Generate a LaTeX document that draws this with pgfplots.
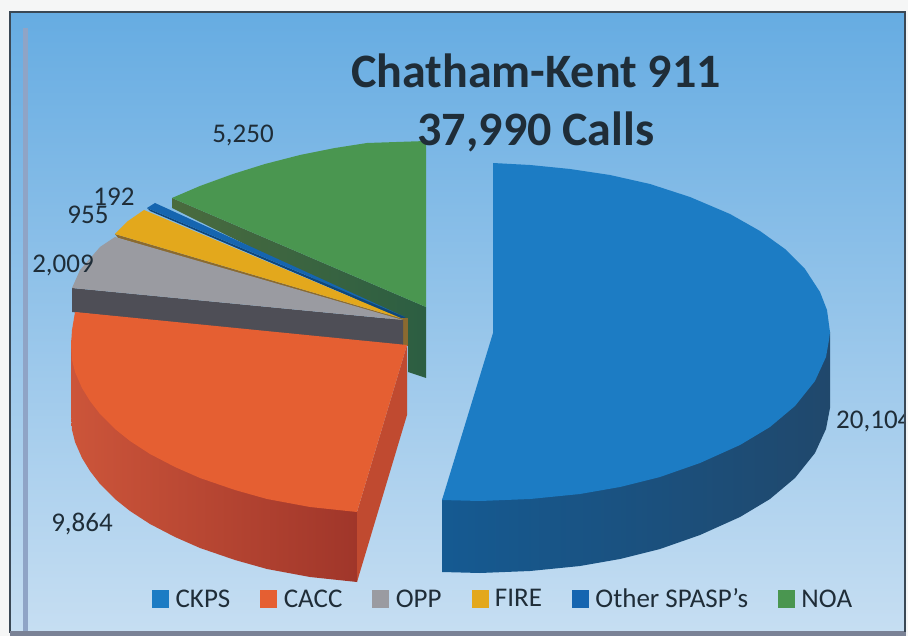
\documentclass[border=0pt]{standalone}
\usepackage{fontspec}
\setmainfont{Carlito}
\usepackage{pgfplots}
\pgfplotsset{compat=1.18}

\definecolor{ckps}{HTML}{1C7CC4}
\definecolor{cacc}{HTML}{E55F32}
\definecolor{opp}{HTML}{9A9BA1}
\definecolor{fire}{HTML}{E3A81C}
\definecolor{spasp}{HTML}{1565B0}
\definecolor{noa}{HTML}{4A9650}
\definecolor{inktext}{HTML}{1F2D38}
\definecolor{panelTop}{HTML}{66ACE2}
\definecolor{panelMid}{HTML}{9CC8EC}
\definecolor{panelBot}{HTML}{C6DEF2}
\definecolor{frameDark}{HTML}{3A4855}
\definecolor{frameBand}{HTML}{8FA4C6}
\definecolor{frameBot}{HTML}{7A8296}
\definecolor{page}{HTML}{F5F6F6}
\definecolor{oppSide}{HTML}{4E4E56}
\definecolor{fireSide}{HTML}{8A6A30}

% everything is laid out in the pixel coordinates of the scan
\begin{document}
\begin{tikzpicture}
\begin{axis}[
  width=908pt, height=636pt, scale only axis,
  xmin=0, xmax=908, ymin=0, ymax=636,
  y dir=reverse, hide axis,
  legend style={at={(axis cs:152,599)}, anchor=west, draw=none, fill=none,
    inner sep=0pt, font=\fontsize{27}{29}\selectfont\color{inktext},
    legend columns=6,
    /tikz/every odd column/.append style={column sep=5pt},
    /tikz/every even column/.append style={column sep=28pt}},
  legend cell align=left,
  legend image code/.code={\fill[#1] (0pt,-8.5pt) rectangle (16pt,8.5pt);},
]
\addlegendimage{ckps}
\addlegendimage{cacc}
\addlegendimage{opp}
\addlegendimage{fire}
\addlegendimage{spasp}
\addlegendimage{noa}

% page and panel
\addplot[draw=none, fill=page] coordinates {(0,0) (908,0) (908,636) (0,636)} --cycle;
\addplot[draw=frameDark, line width=1.5pt, top color=panelTop, middle color=panelMid, bottom color=panelBot]
  coordinates {(10,12) (905,12) (905,632) (10,632)} --cycle;
\addplot[draw=none, fill=frameBand] coordinates {(23,28) (28,28) (28,631) (23,631)} --cycle;
\addplot[draw=none, fill=frameBot] coordinates {(10,631) (908,631) (908,636) (10,636)} --cycle;

% NOA
\addplot[draw=none, left color={rgb,255:red,74;green,107;blue,62}, right color={rgb,255:red,44;green,94;blue,66}]
  coordinates {(172,198) (172,208) (408,325) (408,372) (426,378) (426,307)} --cycle;
\addplot[draw=none, fill=noa] coordinates {(426,141) (367,143) (335,148) (300,155) (265,164) (233,174) (200,186) (172,198) (426,307)} --cycle;

% Other SPASP's
\addplot[draw=none, fill=spasp!70!black] coordinates {(147,208) (405,317) (405,320) (150,211)} --cycle;
\addplot[draw=none, fill=spasp] coordinates {(405,317) (147,208) (155,203)} --cycle;

% FIRE
\addplot[draw=none, fill=fireSide] coordinates {(115,234) (403,319) (403,323) (118,238)} --cycle;
\addplot[draw=none, fill=fireSide] coordinates {(402,318) (408,318) (408,346) (402,346)} --cycle;
\addplot[draw=none, fill=fire] coordinates {(403,319) (115,234) (128,221) (144,210)} --cycle;

% OPP
\addplot[draw=none, fill=oppSide] coordinates {(72,288) (403,320) (403,346) (72,312)} --cycle;
\addplot[draw=none, fill=opp] coordinates {(403,320) (115,237) (100,247) (80,270) (72,288)} --cycle;

% CACC
\addplot[draw=none, left color={rgb,255:red,204;green,85;blue,58}, right color={rgb,255:red,160;green,54;blue,42}]
  coordinates {(71,340) (71,415) (72,430) (75,442) (82,458) (90,471) (100,484) (115,499) (130,511) (150,524)
    (175,537) (200,548) (235,560) (267,569) (310,577) (357,582) (357,512)} --cycle;
\addplot[draw=none, fill={rgb,255:red,192;green,74;blue,48}] coordinates {(357,512) (407,345) (407,415) (357,582)} --cycle;
\addplot[draw=none, fill=cacc] coordinates {(407,345) (75,312) (72,330) (71,345) (72,360) (75,372) (82,388) (90,401)
    (100,414) (115,429) (130,441) (150,454) (175,467) (200,478) (235,490) (267,499) (310,507) (357,512)} --cycle;

% CKPS
\addplot[draw=none, left color={rgb,255:red,21;green,90;blue,146}, right color={rgb,255:red,32;green,72;blue,108}]
  coordinates {(830,332) (830,408) (826,429) (815,453) (795,478) (770,499) (740,517) (700,535) (660,549) (620,559)
    (580,566) (530,571) (480,573) (442,572) (442,499)} --cycle;
\addplot[draw=none, fill=ckps] coordinates {(493,163) (530,165) (570,169) (610,175) (650,184) (690,197) (730,214) (760,231)
    (785,249) (805,269) (820,292) (827,310) (830,332) (829,340) (826,357) (815,381) (795,406) (770,427) (740,445)
    (700,463) (660,477) (620,487) (580,494) (530,499) (480,501) (442,500) (493,333)} --cycle;

% value labels and title
\node[font=\fontsize{27}{29}\selectfont, text=inktext] at (axis cs:243,135) {5,250};
\node[font=\fontsize{27}{29}\selectfont, text=inktext] at (axis cs:114,197) {192};
\node[font=\fontsize{27}{29}\selectfont, text=inktext] at (axis cs:88,215) {955};
\node[font=\fontsize{27}{29}\selectfont, text=inktext] at (axis cs:63,265) {2,009};
\node[font=\fontsize{27}{29}\selectfont, text=inktext] at (axis cs:82,524) {9,864};
\node[overlay, anchor=west, inner sep=0pt, font=\fontsize{27}{29}\selectfont, text=inktext] at (axis cs:836,421) {20,104};
\addplot[draw=none, fill=page] coordinates {(906,0) (908,0) (908,636) (906,636)} --cycle;
\addplot[draw=frameDark, line width=1.5pt] coordinates {(905,12) (905,632)};
\node[font=\bfseries\fontsize{48}{58}\selectfont, text=inktext, align=center] at (axis cs:536,103) {Chatham-Kent 911\\37,990 Calls};

\legend{CKPS,CACC,OPP,FIRE,Other SPASP's,NOA}
\end{axis}
\end{tikzpicture}
\end{document}
